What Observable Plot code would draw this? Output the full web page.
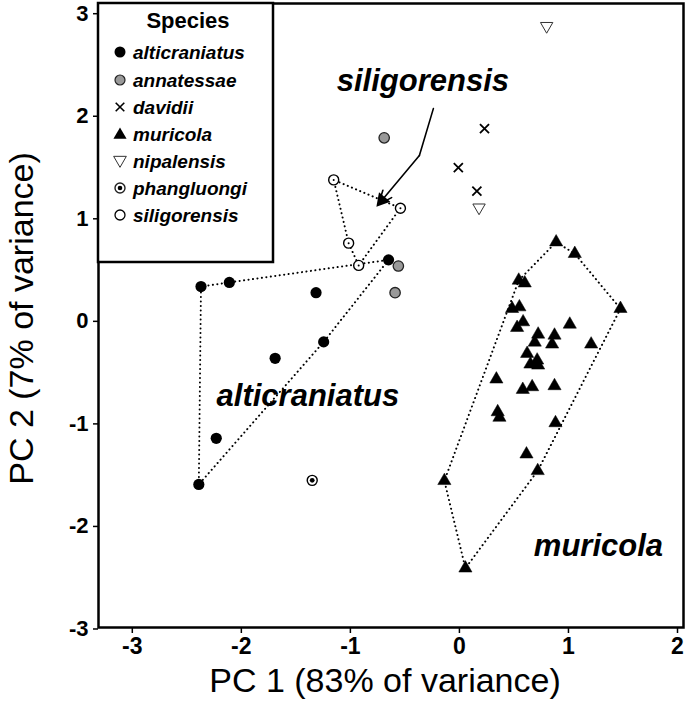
<!DOCTYPE html>
<html>
<head>
<meta charset="utf-8">
<script src="https://cdn.jsdelivr.net/npm/d3@7"></script>
<script src="https://cdn.jsdelivr.net/npm/@observablehq/plot@0.6"></script>
<style>
  body { margin: 0; background: #fff; }
  #wrap { position: relative; width: 685px; height: 711px; font-family: "Liberation Sans", Arial, sans-serif; }
  #legend { position: absolute; left: 0; top: 0; pointer-events: none; }
</style>
</head>
<body>
<div id="wrap"></div>
<script>
// ---- Data (PC1, PC2) ----
const alticraniatusPC1 = [-2.37, -2.11, -1.315, -0.65, -1.245, -1.69, -2.23, -2.39];
const alticraniatusPC2 = [0.32, 0.36, 0.26, 0.58, -0.22, -0.38, -1.16, -1.61];

const annatessaePC1 = [-0.56, -0.59, -0.69];
const annatessaePC2 = [0.52, 0.26, 1.77];

const davidiiPC1 = [0.23, -0.01, 0.16];
const davidiiPC2 = [1.86, 1.48, 1.25];

const muricolaPC1 = [0.887, 1.058, 0.544, 0.599, 1.477, 0.483, 0.550, 0.584, 0.529, 1.012,
                     0.722, 0.872, 0.691, 0.850, 1.208, 0.621, 0.713, 0.651, 0.722, 0.339,
                     0.581, 0.667, 0.872, 0.351, 0.367, 0.881, 0.615, 0.718, -0.138, 0.055];
const muricolaPC2 = [0.753, 0.640, 0.380, 0.353, 0.104, 0.104, 0.120, -0.026, -0.081, -0.049,
                     -0.146, -0.156, -0.224, -0.243, -0.243, -0.334, -0.399, -0.438, -0.448, -0.584,
                     -0.685, -0.659, -0.649, -0.903, -0.957, -1.010, -1.315, -1.477, -1.574, -2.427];

const nipalensisPC1 = [0.80, 0.18];
const nipalensisPC2 = [2.86, 1.09];

const phangluongiPC1 = [-1.35];
const phangluongiPC2 = [-1.57];

const siligorensisPC1 = [-1.153, -0.541, -1.016, -0.924];
const siligorensisPC2 = [1.36, 1.084, 0.743, 0.526];

const speciesNames = ["alticraniatus", "annatessae", "davidii", "muricola", "nipalensis", "phangluongi", "siligorensis"];
const hullSpecies = ["alticraniatus", "muricola", "siligorensis"];

const xTicks = [-3, -2, -1, 0, 1, 2];
const yTicks = [-3, -2, -1, 0, 1, 2, 3];
const xTitle = "PC 1 (83% of variance)";
const yTitle = "PC 2 (7% of variance)";
const legendTitle = "Species";

// group annotations
const groupLabels = ["siligorensis", "alticraniatus", "muricola"];
const groupLabelPC1 = [-0.335, -1.39, 1.275];
const groupLabelPC2 = [2.32, -0.75, -2.21];

// arrow path (start, bend, tip)
const arrowPC1 = [-0.239, -0.367, -0.743];
const arrowPC2 = [2.055, 1.597, 1.12];

// ---- Build tables ----
const series = {
  alticraniatus: [alticraniatusPC1, alticraniatusPC2],
  annatessae: [annatessaePC1, annatessaePC2],
  davidii: [davidiiPC1, davidiiPC2],
  muricola: [muricolaPC1, muricolaPC2],
  nipalensis: [nipalensisPC1, nipalensisPC2],
  phangluongi: [phangluongiPC1, phangluongiPC2],
  siligorensis: [siligorensisPC1, siligorensisPC2]
};
const rows = name => series[name][0].map((x, i) => ({species: name, x, y: series[name][1][i]}));

const hullRows = [];
for (const name of hullSpecies) {
  const pts = rows(name).map(d => [d.x, d.y]);
  const hull = d3.polygonHull(pts);
  hull.push(hull[0]);
  hull.forEach(p => hullRows.push({species: name, x: p[0], y: p[1]}));
}

const labelRows = groupLabels.map((t, i) => ({t, x: groupLabelPC1[i], y: groupLabelPC2[i]}));
const arrowRows = arrowPC1.map((x, i) => ({x, y: arrowPC2[i]}));
const arrowSeg = [{x1: arrowPC1[1], y1: arrowPC2[1], x2: arrowPC1[2], y2: arrowPC2[2]}];

const font = "Liberation Sans, Arial, Helvetica, sans-serif";

const chart = Plot.plot({
  width: 685,
  height: 711,
  marginLeft: 98,
  marginRight: 2,
  marginTop: 3,
  marginBottom: 84,
  style: {fontFamily: font, background: "white", color: "black"},
  x: {domain: [-3.31, 2.055], label: null},
  y: {domain: [-3.005, 3.08], label: null},
  marks: [
    Plot.axisX({ticks: xTicks, tickSize: 6, tickPadding: 4, fontSize: 23, fontWeight: "bold",
                tickFormat: d => String(d), strokeWidth: 1.5, label: null}),
    Plot.axisY({ticks: yTicks, tickSize: 5, tickPadding: 5, fontSize: 22, fontWeight: "bold", dy: 2,
                tickFormat: d => String(d), strokeWidth: 1.5, label: null}),
    Plot.line(hullRows, {x: "x", y: "y", z: "species", stroke: "black", strokeWidth: 2,
                         strokeDasharray: "0.1 4.4", strokeLinecap: "round", curve: "linear"}),
    // points
    Plot.dot(rows("alticraniatus"), {x: "x", y: "y", r: 5.6, fill: "black", stroke: "none"}),
    Plot.dot(rows("annatessae"), {x: "x", y: "y", r: 5.2, fill: "#999", stroke: "#222", strokeWidth: 1.3}),
    Plot.dot(rows("davidii"), {x: "x", y: "y", r: 4.2, symbol: "times", stroke: "black", strokeWidth: 1.8}),
    Plot.dot(rows("muricola"), {x: "x", y: "y", r: 4.9, symbol: "triangle", fill: "black", stroke: "black", strokeWidth: 0.5}),
    Plot.dot(rows("nipalensis"), {x: "x", y: "y", r: 4.6, symbol: "triangle", rotate: 180, fill: "white", stroke: "#333", strokeWidth: 1}),
    Plot.dot(rows("phangluongi"), {x: "x", y: "y", r: 5, fill: "white", stroke: "black", strokeWidth: 1.4}),
    Plot.dot(rows("phangluongi"), {x: "x", y: "y", r: 2.4, fill: "black", stroke: "none"}),
    Plot.dot(rows("siligorensis"), {x: "x", y: "y", r: 5, fill: "white", stroke: "black", strokeWidth: 1.4}),
    Plot.dot(rows("siligorensis"), {x: "x", y: "y", r: 1, fill: "black", stroke: "none"}),
    // annotations
    Plot.line(arrowRows.slice(0, 2), {x: "x", y: "y", stroke: "black", strokeWidth: 1.6}),
    Plot.arrow(arrowSeg, {x1: "x1", y1: "y1", x2: "x2", y2: "y2", stroke: "black", strokeWidth: 1.6,
                          headLength: 14, headAngle: 45}),
    Plot.dot(arrowRows.slice(2), {x: "x", y: "y", symbol: "triangle", r: 5.5, rotate: 220, fill: "black",
                                  dx: 3.5, dy: -4.3}),
    Plot.text(labelRows, {x: "x", y: "y", text: "t", fontSize: 31, fontWeight: "bold", fontStyle: "italic",
                          fill: "black", fontFamily: font}),
    Plot.text([xTitle], {frameAnchor: "bottom", text: d => d, dy: 64, dx: -6, fontSize: 34, fill: "black",
                         textAnchor: "middle", fontFamily: font}),
    Plot.text([yTitle], {frameAnchor: "left", text: d => d, rotate: -90, dx: -76, dy: 3, fontSize: 34, fill: "black",
                         textAnchor: "middle", fontFamily: font}),
    Plot.frame({stroke: "black", strokeWidth: 2.5})
  ]
});

const wrap = document.getElementById("wrap");
wrap.appendChild(chart);

// ---- Legend (inside the plot area, top-left) ----
const lg = d3.select(wrap).append("svg")
  .attr("id", "legend").attr("width", 685).attr("height", 711)
  .style("font-family", font);
lg.append("rect").attr("x", 98).attr("y", 3).attr("width", 175).attr("height", 259)
  .attr("fill", "white").attr("stroke", "black").attr("stroke-width", 2.5);
lg.append("text").attr("x", 188).attr("y", 20).attr("text-anchor", "middle")
  .attr("dominant-baseline", "central").attr("font-size", 22).attr("font-weight", "bold").text(legendTitle);

const rowY = [52, 80, 107, 134, 161, 188, 215];
const sx = 120;
speciesNames.forEach((name, i) => {
  const y = rowY[i];
  const g = lg.append("g");
  if (name === "alticraniatus") g.append("circle").attr("cx", sx).attr("cy", y).attr("r", 5.5).attr("fill", "black");
  if (name === "annatessae") g.append("circle").attr("cx", sx).attr("cy", y).attr("r", 5).attr("fill", "#999").attr("stroke", "#222").attr("stroke-width", 1.2);
  if (name === "davidii") g.append("path").attr("d", d3.symbol(d3.symbolTimes, 50)()).attr("transform", `translate(${sx},${y})`).attr("stroke", "black").attr("stroke-width", 1.6).attr("fill", "none");
  if (name === "muricola") g.append("path").attr("d", d3.symbol(d3.symbolTriangle, 75)()).attr("transform", `translate(${sx},${y + 1})`).attr("fill", "black");
  if (name === "nipalensis") g.append("path").attr("d", d3.symbol(d3.symbolTriangle, 70)()).attr("transform", `translate(${sx},${y - 1}) rotate(180)`).attr("fill", "white").attr("stroke", "#333").attr("stroke-width", 1);
  if (name === "phangluongi") {
    g.append("circle").attr("cx", sx).attr("cy", y).attr("r", 5).attr("fill", "white").attr("stroke", "#222").attr("stroke-width", 1.4);
    g.append("circle").attr("cx", sx).attr("cy", y).attr("r", 2.3).attr("fill", "black");
  }
  if (name === "siligorensis") g.append("circle").attr("cx", sx).attr("cy", y).attr("r", 5).attr("fill", "white").attr("stroke", "black").attr("stroke-width", 1.3);
  lg.append("text").attr("x", 133).attr("y", y).attr("dominant-baseline", "central")
    .attr("font-size", 19).attr("font-weight", "bold").attr("font-style", "italic").text(name);
});
</script>
</body>
</html>
